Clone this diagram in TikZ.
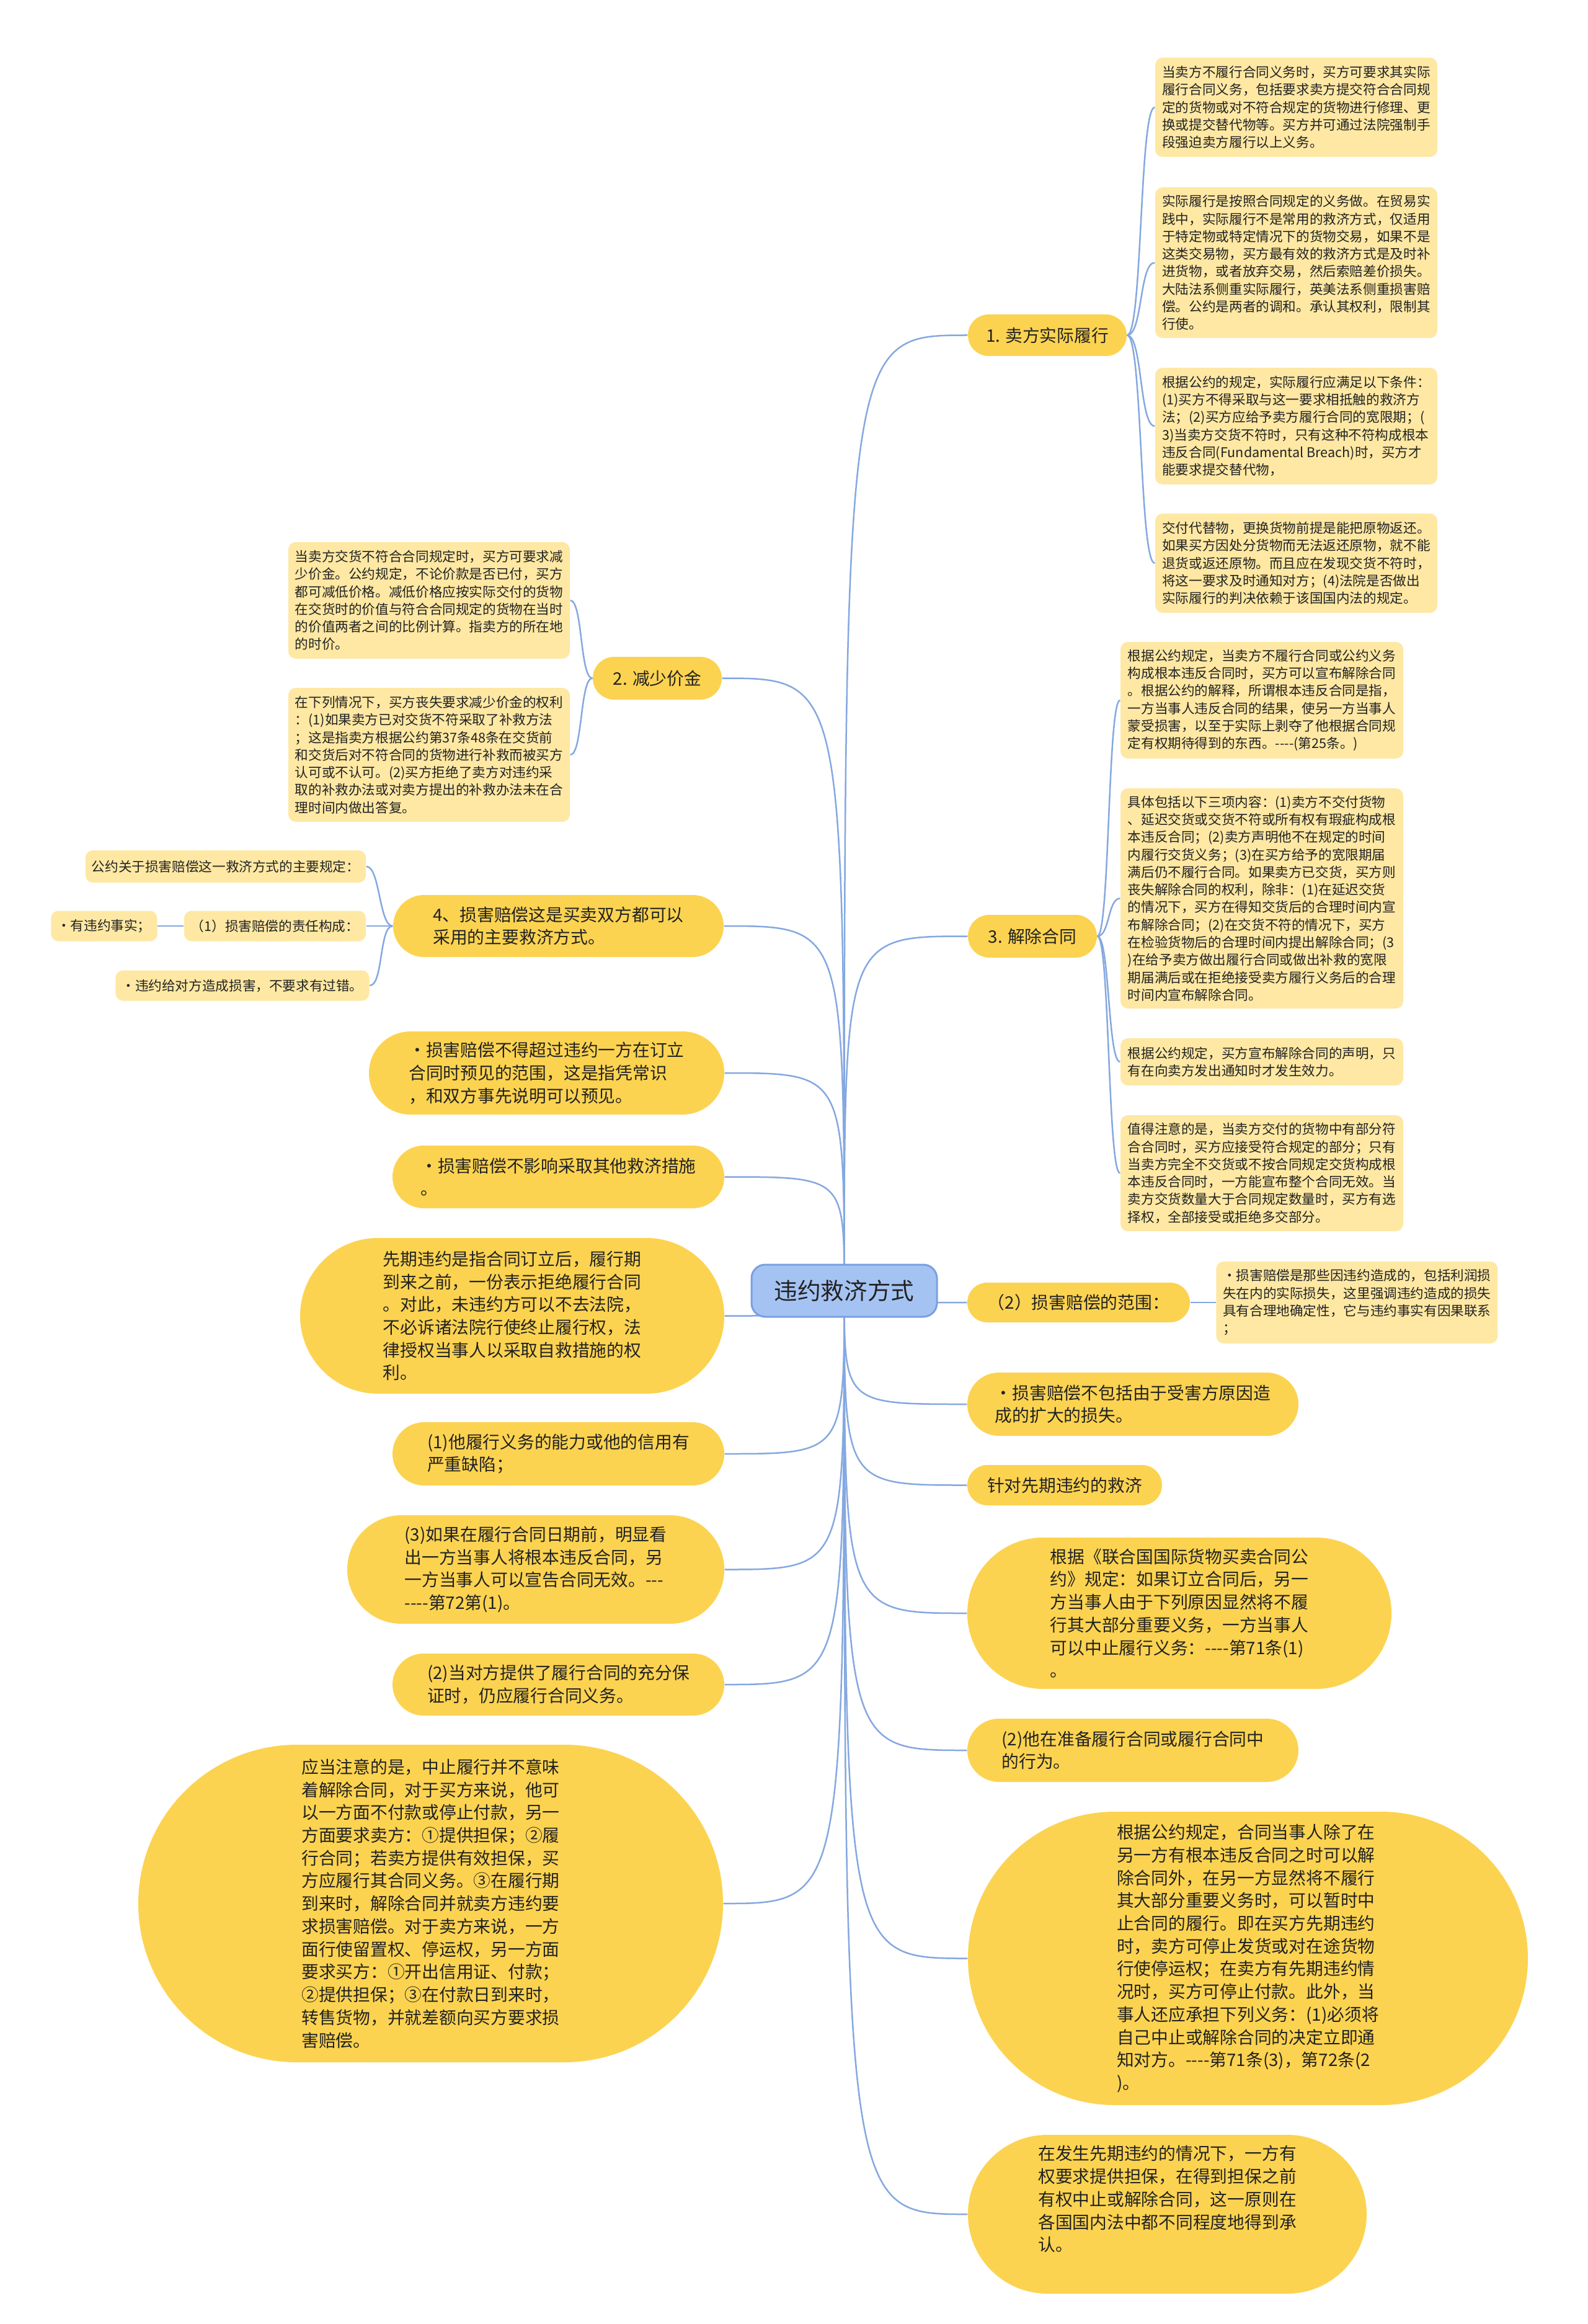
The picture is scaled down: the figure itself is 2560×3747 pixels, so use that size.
\documentclass[tikz,border=0pt]{standalone}
\usepackage{fontspec}
\setmainfont{Noto Sans CJK SC}
\usepackage{tikz}
\usetikzlibrary{shapes.misc,positioning,backgrounds}
\definecolor{pillfill}{RGB}{252,211,80}
\definecolor{notefill}{RGB}{254,232,163}
\definecolor{rootfill}{RGB}{165,195,242}
\definecolor{rootline}{RGB}{120,160,225}
\definecolor{linkblue}{RGB}{133,168,224}
\definecolor{textdark}{RGB}{34,34,34}

\begin{document}
\begin{tikzpicture}[
    x=0.1mm, y=-0.1mm,
    topic/.style={draw=rootline, fill=rootfill, line width=0.3mm, rounded corners=2.2mm,
                  minimum width=29.9mm, minimum height=8.4mm,
                  font=\fontsize{10.7}{13}\selectfont, text=textdark},
    pill/.style={rounded rectangle, fill=pillfill, inner sep=0pt, align=left,
                 font=\fontsize{7.9}{10.45}\selectfont, text=textdark},
    note/.style={rectangle, rounded corners=1.2mm, fill=notefill, inner xsep=1mm, inner ysep=0pt,
                 align=left, font=\fontsize{6.15}{8.05}\selectfont, text=textdark},
    conn/.style={draw=linkblue, line width=0.25mm},
  ]

  \useasboundingbox (0,0) rectangle (2560,3747);

  \node[topic] (core) at (1361.5,2081) {违约救济方式};

  \node[pill, minimum width=25.6mm, minimum height=6.7mm] (perf) at (1689,540.5) {1. 卖方实际履行};
  \node[pill, minimum width=20.8mm, minimum height=6.9mm] (price) at (1060,1093.5) {2. 减少价金};
  \node[pill, minimum width=20.8mm, minimum height=6.9mm] (avoid) at (1665,1509.5) {3. 解除合同};
  \node[pill, minimum width=53.3mm, minimum height=10mm] (dmg) at (900.5,1493)
    {4、损害赔偿这是买卖双方都可以\\采用的主要救济方式。};

  \node[note, minimum width=45.5mm, minimum height=16mm] (perfa) at (2090.5,173)
    {当卖方不履行合同义务时，买方可要求其实际\\履行合同义务，包括要求卖方提交符合合同规\\定的货物或对不符合规定的货物进行修理、更\\换或提交替代物等。买方并可通过法院强制手\\段强迫卖方履行以上义务。};
  \node[note, minimum width=45.5mm, minimum height=24.3mm] (perfb) at (2090.5,423.5)
    {实际履行是按照合同规定的义务做。在贸易实\\践中，实际履行不是常用的救济方式，仅适用\\于特定物或特定情况下的货物交易，如果不是\\这类交易物，买方最有效的救济方式是及时补\\进货物，或者放弃交易，然后索赔差价损失。\\大陆法系侧重实际履行，英美法系侧重损害赔\\偿。公约是两者的调和。承认其权利，限制其\\行使。};
  \node[note, minimum width=45.5mm, minimum height=18.8mm] (perfc) at (2090.5,687)
    {根据公约的规定，实际履行应满足以下条件：\\(1)买方不得采取与这一要求相抵触的救济方\\法；(2)买方应给予卖方履行合同的宽限期；(\\3)当卖方交货不符时，只有这种不符构成根本\\违反合同(Fundamental Breach)时，买方才\\能要求提交替代物，};
  \node[note, minimum width=45.5mm, minimum height=16mm] (perfd) at (2090.5,908)
    {交付代替物，更换货物前提是能把原物返还。\\如果买方因处分货物而无法返还原物，就不能\\退货或返还原物。而且应在发现交货不符时，\\将这一要求及时通知对方；(4)法院是否做出\\实际履行的判决依赖于该国国内法的规定。};

  \node[note, minimum width=45.4mm, minimum height=18.8mm] (pricea) at (692,968)
    {当卖方交货不符合合同规定时，买方可要求减\\少价金。公约规定，不论价款是否已付，买方\\都可减低价格。减低价格应按实际交付的货物\\在交货时的价值与符合合同规定的货物在当时\\的价值两者之间的比例计算。指卖方的所在地\\的时价。};
  \node[note, minimum width=45.4mm, minimum height=21.6mm] (priceb) at (692,1217)
    {在下列情况下，买方丧失要求减少价金的权利\\：(1)如果卖方已对交货不符采取了补救方法\\；这是指卖方根据公约第37条48条在交货前\\和交货后对不符合同的货物进行补救而被买方\\认可或不认可。(2)买方拒绝了卖方对违约采\\取的补救办法或对卖方提出的补救办法未在合\\理时间内做出答复。};

  \node[note, minimum width=45.6mm, minimum height=18.8mm] (avoida) at (2035,1129)
    {根据公约规定，当卖方不履行合同或公约义务\\构成根本违反合同时，买方可以宣布解除合同\\。根据公约的解释，所谓根本违反合同是指，\\一方当事人违反合同的结果，使另一方当事人\\蒙受损害，以至于实际上剥夺了他根据合同规\\定有权期待得到的东西。-{}-{}-{}-(第25条。)};
  \node[note, minimum width=45.6mm, minimum height=35.5mm] (avoidb) at (2035,1448.5)
    {具体包括以下三项内容：(1)卖方不交付货物\\、延迟交货或交货不符或所有权有瑕疵构成根\\本违反合同；(2)卖方声明他不在规定的时间\\内履行交货义务；(3)在买方给予的宽限期届\\满后仍不履行合同。如果卖方已交货，买方则\\丧失解除合同的权利，除非：(1)在延迟交货\\的情况下，买方在得知交货后的合理时间内宣\\布解除合同；(2)在交货不符的情况下，买方\\在检验货物后的合理时间内提出解除合同；(3\\)在给予卖方做出履行合同或做出补救的宽限\\期届满后或在拒绝接受卖方履行义务后的合理\\时间内宣布解除合同。};
  \node[note, minimum width=45.6mm, minimum height=7.6mm] (avoidc) at (2035,1712)
    {根据公约规定，买方宣布解除合同的声明，只\\有在向卖方发出通知时才发生效力。};
  \node[note, minimum width=45.6mm, minimum height=18.7mm] (avoidd) at (2035,1891.5)
    {值得注意的是，当卖方交付的货物中有部分符\\合合同时，买方应接受符合规定的部分；只有\\当卖方完全不交货或不按合同规定交货构成根\\本违反合同时，一方能宣布整个合同无效。当\\卖方交货数量大于合同规定数量时，买方有选\\择权，全部接受或拒绝多交部分。};

  \node[note, minimum width=45.2mm, minimum height=5.2mm] (rule) at (364,1397) {公约关于损害赔偿这一救济方式的主要规定：};
  \node[note, minimum width=29.3mm, minimum height=4.9mm] (duty) at (443.5,1493) {（1）损害赔偿的责任构成：};
  \node[note, minimum width=16.1mm, minimum height=4.9mm, left=4.2mm of duty] (fact) {·有违约事实；};
  \node[note, minimum width=39.8mm, minimum height=4.9mm] (harm) at (391,1589) {·违约给对方造成损害，不要求有过错。};

  \node[pill, minimum width=57.3mm, minimum height=13.4mm] (foresee) at (881.5,1730)
    {·损害赔偿不得超过违约一方在订立\\合同时预见的范围，这是指凭常识\\，和双方事先说明可以预见。};
  \node[pill, minimum width=53.5mm, minimum height=10.1mm] (other) at (900.5,1897.5)
    {·损害赔偿不影响采取其他救济措施\\。};
  \node[pill, minimum width=68.4mm, minimum height=25.1mm] (anti) at (826,2121.5)
    {先期违约是指合同订立后，履行期\\到来之前，一份表示拒绝履行合同\\。对此，未违约方可以不去法院，\\不必诉诸法院行使终止履行权，法\\律授权当事人以采取自救措施的权\\利。};
  \node[pill, minimum width=53.5mm, minimum height=10.2mm] (credit) at (900.5,2344)
    {(1)他履行义务的能力或他的信用有\\严重缺陷；};
  \node[pill, minimum width=60.8mm, minimum height=17.5mm] (clear) at (864,2530.5)
    {(3)如果在履行合同日期前，明显看\\出一方当事人将根本违反合同，另\\一方当事人可以宣告合同无效。-{}-{}-\\-{}-{}-{}-第72第(1)。};
  \node[pill, minimum width=53.5mm, minimum height=10mm] (assure) at (900.5,2716)
    {(2)当对方提供了履行合同的充分保\\证时，仍应履行合同义务。};
  \node[pill, minimum width=94.3mm, minimum height=51.2mm] (suspend) at (694.5,3069)
    {应当注意的是，中止履行并不意味\\着解除合同，对于买方来说，他可\\以一方面不付款或停止付款，另一\\方面要求卖方：①提供担保；②履\\行合同；若卖方提供有效担保，买\\方应履行其合同义务。③在履行期\\到来时，解除合同并就卖方违约要\\求损害赔偿。对于卖方来说，一方\\面行使留置权、停运权，另一方面\\要求买方：①开出信用证、付款；\\②提供担保；③在付款日到来时，\\转售货物，并就差额向买方要求损\\害赔偿。};

  \node[pill, minimum width=35.9mm, minimum height=6.4mm] (scope) at (1739.5,2100) {（2）损害赔偿的范围：};
  \node[note, minimum width=45.4mm, minimum height=13.2mm, right=4.1mm of scope] (scopenote)
    {·损害赔偿是那些因违约造成的，包括利润损\\失在内的实际损失，这里强调违约造成的损失\\具有合理地确定性，它与违约事实有因果联系\\；};
  \node[pill, minimum width=53.4mm, minimum height=10.2mm] (extra) at (1827,2264)
    {·损害赔偿不包括由于受害方原因造\\成的扩大的损失。};
  \node[pill, minimum width=31.4mm, minimum height=6.5mm] (remedy) at (1717,2394.5) {针对先期违约的救济};
  \node[pill, minimum width=68.4mm, minimum height=24.4mm] (cisg) at (1902,2601)
    {根据《联合国国际货物买卖合同公\\约》规定：如果订立合同后，另一\\方当事人由于下列原因显然将不履\\行其大部分重要义务，一方当事人\\可以中止履行义务：-{}-{}-{}-第71条(1)\\。};
  \node[pill, minimum width=53.4mm, minimum height=10.2mm] (prepare) at (1827,2822)
    {(2)他在准备履行合同或履行合同中\\的行为。};
  \node[pill, minimum width=90.3mm, minimum height=47.3mm] (halt) at (2012.5,3157.5)
    {根据公约规定，合同当事人除了在\\另一方有根本违反合同之时可以解\\除合同外，在另一方显然将不履行\\其大部分重要义务时，可以暂时中\\止合同的履行。即在买方先期违约\\时，卖方可停止发货或对在途货物\\行使停运权；在卖方有先期违约情\\况时，买方可停止付款。此外，当\\事人还应承担下列义务：(1)必须将\\自己中止或解除合同的决定立即通\\知对方。-{}-{}-{}-第71条(3)，第72条(2\\)。};
  \node[pill, minimum width=64.3mm, minimum height=25.6mm] (secure) at (1882.5,3570)
    {在发生先期违约的情况下，一方有\\权要求提供担保，在得到担保之前\\有权中止或解除合同，这一原则在\\各国国内法中都不同程度地得到承\\认。\rule[-5.1mm]{0pt}{0pt}};

  \begin{scope}[on background layer]
    \fill[white] (0,0) rectangle (2560,3747);

    \draw[conn] (core.center) .. controls (core.center |- perf.west) .. (perf.west);
    \draw[conn] (core.center) .. controls (core.center |- avoid.west) .. (avoid.west);
    \draw[conn] (core.center) .. controls (core.center |- scope.west) .. (scope.west);
    \draw[conn] (core.center) .. controls (core.center |- extra.west) .. (extra.west);
    \draw[conn] (core.center) .. controls (core.center |- remedy.west) .. (remedy.west);
    \draw[conn] (core.center) .. controls (core.center |- cisg.west) .. (cisg.west);
    \draw[conn] (core.center) .. controls (core.center |- prepare.west) .. (prepare.west);
    \draw[conn] (core.center) .. controls (core.center |- halt.west) .. (halt.west);
    \draw[conn] (core.center) .. controls (core.center |- secure.west) .. (secure.west);

    \draw[conn] (core.center) .. controls (core.center |- price.east) .. (price.east);
    \draw[conn] (core.center) .. controls (core.center |- dmg.east) .. (dmg.east);
    \draw[conn] (core.center) .. controls (core.center |- foresee.east) .. (foresee.east);
    \draw[conn] (core.center) .. controls (core.center |- other.east) .. (other.east);
    \draw[conn] (core.center) .. controls (core.center |- anti.east) .. (anti.east);
    \draw[conn] (core.center) .. controls (core.center |- credit.east) .. (credit.east);
    \draw[conn] (core.center) .. controls (core.center |- clear.east) .. (clear.east);
    \draw[conn] (core.center) .. controls (core.center |- assure.east) .. (assure.east);
    \draw[conn] (core.center) .. controls (core.center |- suspend.east) .. (suspend.east);

    \draw[conn] (perf.east) .. controls +(25,0) and +(-25,0) .. (perfa.west);
    \draw[conn] (perf.east) .. controls +(25,0) and +(-25,0) .. (perfb.west);
    \draw[conn] (perf.east) .. controls +(25,0) and +(-25,0) .. (perfc.west);
    \draw[conn] (perf.east) .. controls +(25,0) and +(-25,0) .. (perfd.west);

    \draw[conn] (price.west) .. controls +(-20,0) and +(20,0) .. (pricea.east);
    \draw[conn] (price.west) .. controls +(-20,0) and +(20,0) .. (priceb.east);

    \draw[conn] (avoid.east) .. controls +(20,0) and +(-20,0) .. (avoida.west);
    \draw[conn] (avoid.east) .. controls +(20,0) and +(-20,0) .. (avoidb.west);
    \draw[conn] (avoid.east) .. controls +(20,0) and +(-20,0) .. (avoidc.west);
    \draw[conn] (avoid.east) .. controls +(20,0) and +(-20,0) .. (avoidd.west);

    \draw[conn] (dmg.west) .. controls +(-22,0) and +(22,0) .. (rule.east);
    \draw[conn] (dmg.west) -- (duty.east);
    \draw[conn] (dmg.west) .. controls +(-22,0) and +(22,0) .. (harm.east);
    \draw[conn] (duty.west) -- (fact.east);

    \draw[conn] (scope.east) -- (scopenote.west);
  \end{scope}

\end{tikzpicture}
\end{document}
